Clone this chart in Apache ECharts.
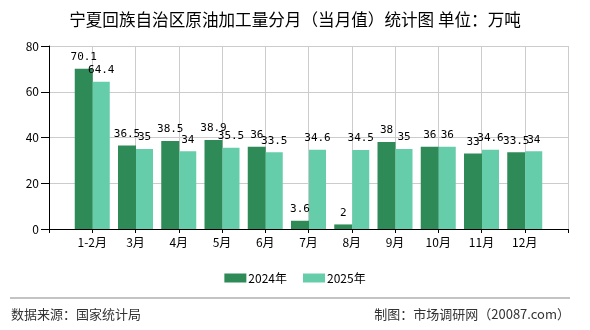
<!DOCTYPE html>
<html>

<head>
	<meta charset="utf-8">
	<title>宁夏回族自治区原油加工量分月（当月值）统计图</title>
	<script src="https://cdn.jsdelivr.net/npm/echarts@6/dist/echarts.min.js"></script>
	<style>
		body { margin: 0; background: #fff; }
		#main { width: 590px; height: 330px; }
	</style>
</head>

<body>
	<div id="main"></div>
	<script>
		// 月份
		var months = ['1-2月', '3月', '4月', '5月', '6月', '7月', '8月', '9月', '10月', '11月', '12月'];
		// 当月值（万吨）
		var data2024 = [70.1, 36.5, 38.5, 38.9, 36, 3.6, 2, 38, 36, 33, 33.5];
		var data2025 = [64.4, 35, 34, 35.5, 33.5, 34.6, 34.5, 35, 36, 34.6, 34];
		var seriesNames = ['2024年', '2025年'];
		var yTicks = [0, 20, 40, 60, 80];

		var colors = ['#2E8B57', '#66CDAA'];
		var cjk = '"Noto Sans CJK SC", sans-serif';

		// 两端各留一个空位，刻度落在类目中心
		var cats = [''].concat(months, ['']);
		function pad(arr) {
			return ['-'].concat(arr, ['-']);
		}

		var barLabel = {
			show: true,
			position: 'top',
			distance: 6,
			fontFamily: '"DejaVu Sans Mono", monospace',
			fontSize: 11,
			color: '#000'
		};

		var myChart = echarts.init(document.getElementById('main'));

		var option = {
			animation: false,
			title: {
				text: '宁夏回族自治区原油加工量分月（当月值）统计图 单位：万吨',
				left: 'center',
				top: 6,
				textStyle: { fontFamily: cjk, fontSize: 16.6, fontWeight: 'normal', color: '#000' }
			},
			legend: {
				data: seriesNames,
				top: 267,
				left: 'center',
				itemWidth: 22,
				itemHeight: 9,
				itemGap: 16,
				icon: 'rect',
				textStyle: { fontFamily: cjk, fontSize: 12, color: '#000', padding: [0, 0, 0, -3] }
			},
			grid: {
				left: 49,
				right: 22,
				top: 46,
				bottom: 101
			},
			xAxis: {
				type: 'category',
				data: cats,
				boundaryGap: false,
				axisLine: { lineStyle: { color: '#000' } },
				axisTick: { length: 4, interval: 0, lineStyle: { color: '#000' } },
				axisLabel: { interval: 0, margin: 7, fontFamily: cjk, fontSize: 12, color: '#000' },
				splitLine: { show: true, interval: 0, lineStyle: { color: '#ccc' } }
			},
			yAxis: {
				type: 'value',
				min: yTicks[0],
				max: yTicks[yTicks.length - 1],
				interval: 20,
				axisLine: { show: true, lineStyle: { color: '#000' } },
				axisTick: { show: true, length: 8, lineStyle: { color: '#000' } },
				axisLabel: { margin: 10, fontFamily: cjk, fontSize: 12, color: '#000' },
				splitLine: { lineStyle: { color: '#ccc' } }
			},
			series: [{
				name: seriesNames[0],
				type: 'bar',
				data: pad(data2024),
				barWidth: 18,
				barGap: '0%',
				itemStyle: { color: colors[0] },
				label: barLabel
			}, {
				name: seriesNames[1],
				type: 'bar',
				data: pad(data2025),
				barWidth: 17,
				itemStyle: { color: colors[1] },
				label: barLabel
			}],
			graphic: [{
				type: 'line',
				shape: { x1: 10, y1: 298, x2: 570, y2: 298 },
				style: { stroke: '#888', lineWidth: 1 }
			}, {
				type: 'text',
				left: 11,
				top: 308,
				style: { text: '数据来源：国家统计局', font: '13px ' + cjk, fill: '#333' }
			}, {
				type: 'text',
				right: 20,
				top: 308,
				style: { text: '制图：市场调研网（20087.com）', font: '13px ' + cjk, fill: '#333' }
			}]
		};

		myChart.setOption(option);
	</script>
</body>

</html>
